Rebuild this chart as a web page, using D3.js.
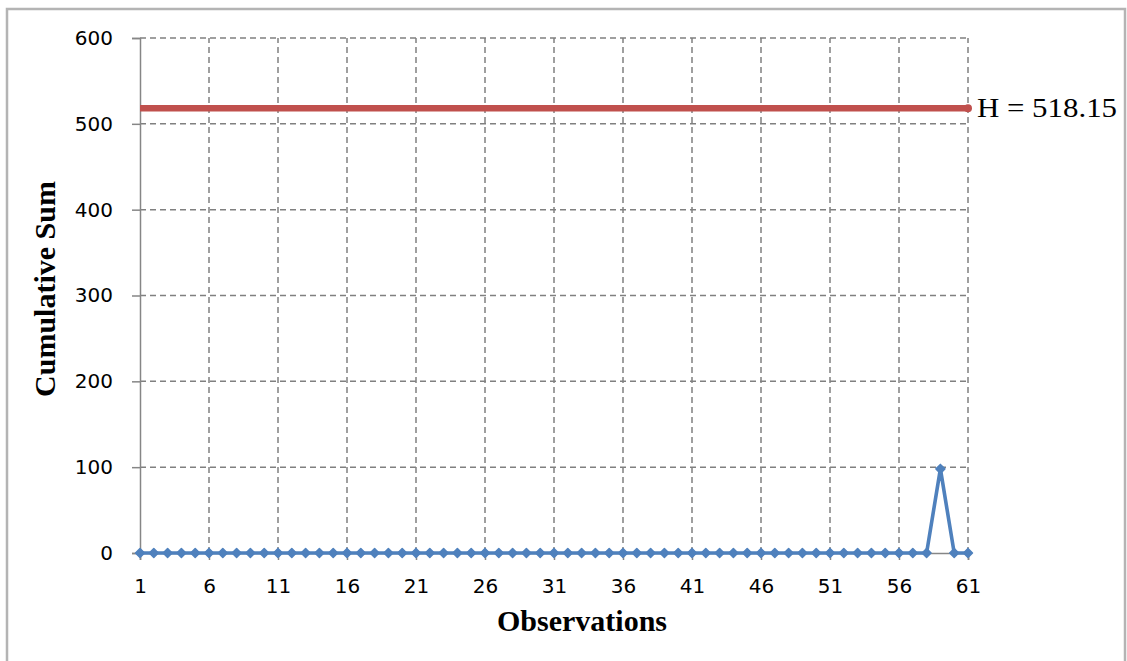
<!DOCTYPE html>
<html><head><meta charset="utf-8">
<script src="https://cdn.jsdelivr.net/npm/d3@7"></script>
<style>html,body{margin:0;padding:0;background:#fff;overflow:hidden}</style>
</head><body>
<svg id="chart" width="1127" height="661"></svg>
<script>
const observations = d3.range(1, 62);
const cusumValues = [0,0,0,0,0,0,0,0,0,0, 0,0,0,0,0,0,0,0,0,0, 0,0,0,0,0,0,0,0,0,0, 0,0,0,0,0,0,0,0,0,0, 0,0,0,0,0,0,0,0,0,0, 0,0,0,0,0,0,0,0,98,0, 0];
const thresholdH = 518.15;
const xTickLabels = [1,6,11,16,21,26,31,36,41,46,51,56,61];
const yTickLabels = [0,100,200,300,400,500,600];
const xTitle = "Observations";
const yTitle = "Cumulative Sum";
const hLabel = "H = 518.15";

const svg = d3.select("#chart");
const x = d3.scaleLinear().domain([1, 61]).range([140, 968]);
const y = d3.scaleLinear().domain([0, 600]).range([553, 38]);

// outer border
svg.append("rect").attr("x", 7).attr("y", 9).attr("width", 1118).attr("height", 700)
  .attr("fill", "none").attr("stroke", "#b4b4b4").attr("stroke-width", 2.5);

const gridColor = "#808080";
// horizontal gridlines
svg.append("g").selectAll("line").data(yTickLabels.filter(d => d > 0)).join("line")
  .attr("x1", x(1)).attr("x2", x(61)).attr("y1", d => y(d)).attr("y2", d => y(d))
  .attr("stroke", gridColor).attr("stroke-width", 1.5).attr("stroke-dasharray", "6,4");
// vertical gridlines
svg.append("g").selectAll("line").data(xTickLabels.filter(d => d > 1)).join("line")
  .attr("x1", d => x(d)).attr("x2", d => x(d)).attr("y1", y(0)).attr("y2", y(600))
  .attr("stroke", gridColor).attr("stroke-width", 1.5).attr("stroke-dasharray", "6,4");

const tickFont = "'DejaVu Sans', Verdana, sans-serif";
// y axis
const yAxis = d3.axisLeft(y).tickValues(yTickLabels).tickSize(8).tickPadding(19);
const gy = svg.append("g").attr("transform", `translate(${x(1)},0)`).call(yAxis);
gy.select(".domain").attr("stroke", "#868686").attr("stroke-width", 1.5);
gy.selectAll(".tick line").attr("stroke", "#868686").attr("stroke-width", 1.5);
gy.selectAll("text").attr("font-family", tickFont).attr("font-size", 20).attr("fill", "#000");

// x axis
const xAxis = d3.axisBottom(x).tickValues(xTickLabels).tickSize(7).tickPadding(19);
const gx = svg.append("g").attr("transform", `translate(0,${y(0)})`).call(xAxis);
gx.select(".domain").attr("stroke", "#868686").attr("stroke-width", 1.5);
gx.selectAll(".tick line").attr("stroke", "#868686").attr("stroke-width", 1.5);
gx.selectAll("text").attr("font-family", tickFont).attr("font-size", 20).attr("fill", "#000");
svg.selectAll(".domain").attr("fill", "none");

// H threshold line
svg.append("line").attr("x1", x(1)).attr("x2", x(61)).attr("y1", y(thresholdH)).attr("y2", y(thresholdH))
  .attr("stroke", "#c0504d").attr("stroke-width", 6.5);
svg.append("circle").attr("cx", x(61)).attr("cy", y(thresholdH)).attr("r", 4).attr("fill", "#c0504d");

// series line
const line = d3.line().x((d, i) => x(observations[i])).y(d => y(d));
svg.append("path").datum(cusumValues).attr("d", line).attr("fill", "none")
  .attr("stroke", "#4f81bd").attr("stroke-width", 3.6).attr("stroke-linejoin", "round");
svg.append("g").selectAll("path").data(cusumValues).join("path")
  .attr("transform", (d, i) => `translate(${x(observations[i])},${y(d)}) rotate(45)`)
  .attr("d", d3.symbol().type(d3.symbolSquare).size(40))
  .attr("fill", "#4f81bd").attr("stroke", "#4f81bd").attr("stroke-width", 1.5).attr("stroke-linejoin", "round");

// labels
svg.append("text").attr("x", 977).attr("y", y(thresholdH) + 9).text(hLabel)
  .attr("font-family", "'Liberation Serif', 'Times New Roman', serif").attr("font-size", 28)
  .attr("textLength", 140).attr("lengthAdjust", "spacingAndGlyphs").attr("fill", "#000");

svg.append("text").attr("x", 582).attr("y", 631).attr("text-anchor", "middle").text(xTitle)
  .attr("font-family", "'Liberation Serif', 'Times New Roman', serif").attr("font-size", 30).attr("font-weight", "bold").attr("fill", "#000");

svg.append("text").attr("transform", "translate(55,289) rotate(-90)").attr("text-anchor", "middle").text(yTitle)
  .attr("font-family", "'Liberation Serif', 'Times New Roman', serif").attr("font-size", 30).attr("font-weight", "bold").attr("fill", "#000");
</script>
</body></html>
